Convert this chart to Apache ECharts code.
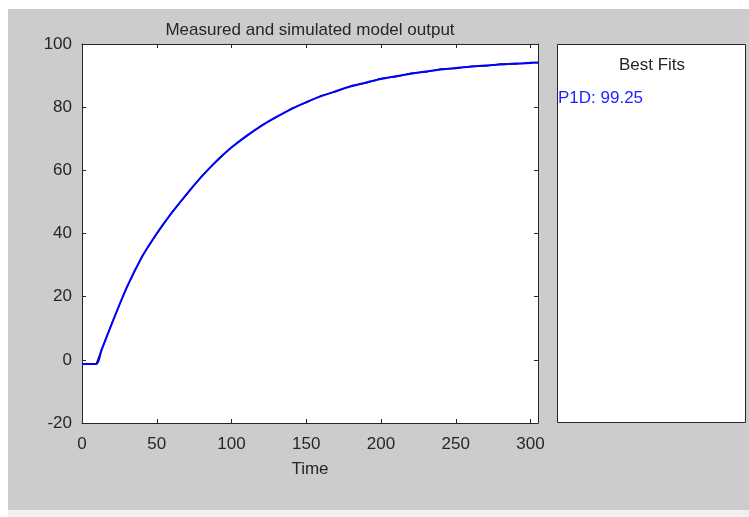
<!DOCTYPE html>
<html><head><meta charset="utf-8">
<script src="https://cdn.jsdelivr.net/npm/echarts@6/dist/echarts.min.js"></script>
<style>html,body{margin:0;padding:0;background:#fff}#c{width:749px;height:517px}</style>
</head><body><div id="c"></div>
<script>
const titleText = 'Measured and simulated model output';
const xLabel = 'Time';
const fitTitle = 'Best Fits';
const fitText = 'P1D: 99.25';
const times = [0, 9.5, 13, 20, 30, 40, 50, 60, 70, 80, 90, 100, 110, 120, 130, 140, 150, 160, 170, 180, 190, 200, 210, 220, 230, 240, 250, 260, 270, 280, 290, 300, 305];
const simulated = [-1.3, -1.3, 3, 11.5, 23, 32.5, 40, 46.5, 52.5, 58, 63, 67.2, 70.9, 74.1, 76.9, 79.4, 81.6, 83.5, 85.1, 86.6, 87.8, 88.9, 89.8, 90.6, 91.3, 91.9, 92.4, 92.8, 93.2, 93.5, 93.8, 94.0, 94.1];
const measured = [-1.3, -1.3, 3.2, 11.7, 22.8, 32.7, 39.8, 46.7, 52.3, 58.2, 62.8, 67.4, 70.7, 74.3, 76.7, 79.6, 81.4, 83.7, 84.9, 86.8, 87.6, 89.1, 89.6, 90.8, 91.1, 92.1, 92.2, 93.0, 93.0, 93.7, 93.6, 94.2, 94.2];
const xTicks = {min: 0, max: 305, interval: 50};
const yTicks = {min: -20, max: 100, interval: 20};

const font = '"Liberation Sans", Arial, sans-serif';
const txt = '#262626';
const chart = echarts.init(document.getElementById('c'));
const axisBase = {
  axisLine: {show: true, onZero: false, lineStyle: {color: '#262626', width: 1}},
  axisTick: {show: true, inside: true, length: 4, lineStyle: {color: '#262626'}},
  splitLine: {show: false}
};
chart.setOption({
  backgroundColor: '#ffffff',
  animation: false,
  graphic: [
    {type: 'rect', z: -10, shape: {x: 8, y: 9, width: 741, height: 501}, style: {fill: '#cccccc'}},
    {type: 'rect', z: -10, shape: {x: 8, y: 510, width: 741, height: 7}, style: {fill: '#f0f0f0'}},
    {type: 'rect', z: -5, shape: {x: 82, y: 44, width: 456, height: 379}, style: {fill: '#ffffff'}},
    {type: 'rect', shape: {x: 557.5, y: 44.5, width: 188, height: 378}, style: {fill: '#ffffff', stroke: '#262626', lineWidth: 1}},
    {type: 'text', x: 310, y: 30, style: {text: titleText, font: '17px ' + font, fill: txt, textAlign: 'center', textVerticalAlign: 'middle'}},
    {type: 'text', x: 652, y: 65, style: {text: fitTitle, font: '17px ' + font, fill: txt, textAlign: 'center', textVerticalAlign: 'middle'}},
    {type: 'text', x: 558, y: 98, style: {text: fitText, font: '17px ' + font, fill: '#1f1fff', textAlign: 'left', textVerticalAlign: 'middle'}}
  ],
  grid: {left: 82, top: 44, width: 456, height: 379, containLabel: false},
  xAxis: [
    Object.assign({type: 'value', position: 'bottom', min: xTicks.min, max: xTicks.max, interval: xTicks.interval,
      name: xLabel, nameLocation: 'middle', nameGap: 38, nameTextStyle: {fontFamily: font, fontSize: 17, color: txt},
      axisLabel: {show: true, margin: 13, fontFamily: font, fontSize: 17, color: txt, showMaxLabel: false,
        formatter: v => (v % 50 === 0 ? String(v) : '')}}, axisBase),
    Object.assign({type: 'value', position: 'top', min: xTicks.min, max: xTicks.max, interval: xTicks.interval,
      axisLabel: {show: false}}, axisBase)
  ],
  yAxis: [
    Object.assign({type: 'value', position: 'left', min: yTicks.min, max: yTicks.max, interval: yTicks.interval,
      axisLabel: {show: true, margin: 10, fontFamily: font, fontSize: 17, color: txt}}, axisBase),
    Object.assign({type: 'value', position: 'right', min: yTicks.min, max: yTicks.max, interval: yTicks.interval,
      axisLabel: {show: false}}, axisBase)
  ],
  series: [
    {type: 'line', name: 'measured', data: times.map((t, i) => [t, measured[i]]), showSymbol: false,
      lineStyle: {color: '#000000', width: 1.2}, z: 2},
    {type: 'line', name: 'P1D', data: times.map((t, i) => [t, simulated[i]]), showSymbol: false,
      smooth: 0.3,
      lineStyle: {color: '#0000ff', width: 2}, z: 3}
  ]
});
</script></body></html>
